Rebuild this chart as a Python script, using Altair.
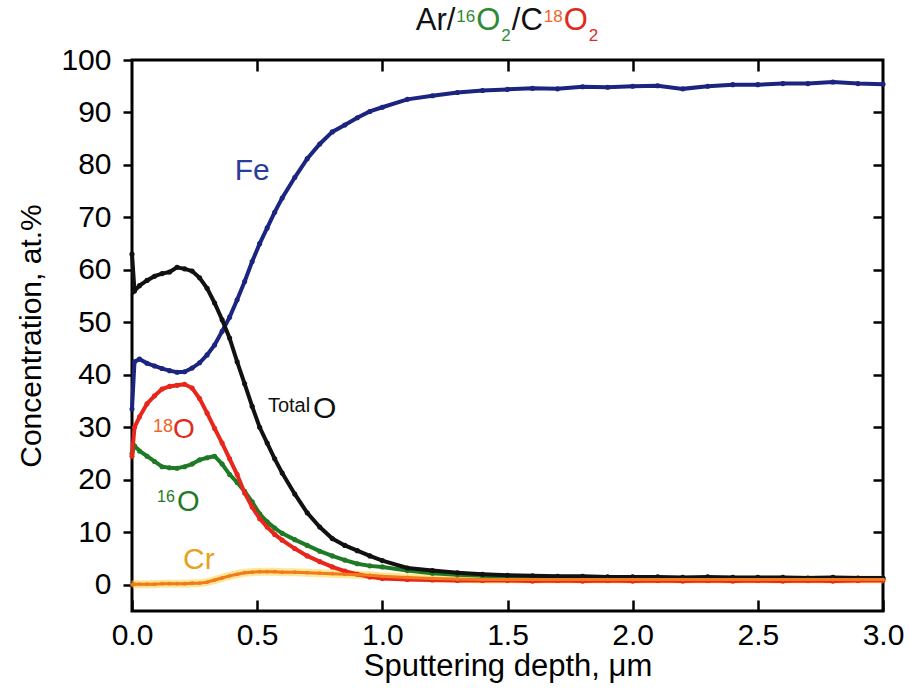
import altair as alt
import pandas as pd

# ---------------- data ----------------
depth = [0.00, 0.01, 0.03, 0.06, 0.09, 0.12, 0.15, 0.18, 0.21, 0.24, 0.27, 0.30,
         0.33, 0.36, 0.39, 0.42, 0.45, 0.48, 0.51, 0.54, 0.57, 0.60, 0.65, 0.70,
         0.75, 0.80, 0.85, 0.90, 0.95, 1.00, 1.10, 1.20, 1.30, 1.40, 1.50, 1.60,
         1.70, 1.80, 1.90, 2.00, 2.10, 2.20, 2.30, 2.40, 2.50, 2.60, 2.70, 2.80,
         2.90, 3.00]

fe = [33.5, 42.5, 43.0, 42.2, 41.7, 41.2, 40.8, 40.5, 40.6, 41.3, 42.3, 43.8,
      45.7, 48.3, 51.0, 54.3, 57.8, 61.6, 65.0, 68.0, 71.0, 73.7, 77.6, 81.2,
      84.0, 86.3, 87.6, 89.0, 90.2, 91.0, 92.5, 93.2, 93.8, 94.2, 94.4, 94.6,
      94.5, 94.9, 94.8, 95.0, 95.1, 94.5, 95.0, 95.3, 95.3, 95.5, 95.5, 95.8,
      95.5, 95.4]

total_o = [63.0, 56.0, 57.0, 58.0, 58.8, 59.3, 59.6, 60.5, 60.2, 59.8, 58.5, 56.5,
           53.7, 50.5, 47.0, 42.5, 38.3, 34.0, 30.0, 27.0, 24.0, 21.3, 17.3, 13.7,
           11.0, 8.8, 7.5, 6.5, 5.5, 4.6, 3.2, 2.7, 2.3, 2.0, 1.8, 1.7,
           1.6, 1.6, 1.5, 1.5, 1.5, 1.4, 1.5, 1.4, 1.4, 1.4, 1.3, 1.4,
           1.3, 1.3]

o18 = [24.5, 30.0, 32.0, 34.5, 36.0, 37.3, 37.8, 38.0, 38.2, 37.5, 35.5, 32.7,
       29.8, 27.0, 24.0, 21.0, 17.5, 14.8, 12.6, 11.0, 9.6, 8.5, 6.9, 5.5,
       4.4, 3.4, 2.6, 2.0, 1.5, 1.2, 1.0, 0.9, 0.8, 0.8, 0.8, 0.7,
       0.8, 0.7, 0.8, 0.7, 0.8, 0.7, 0.8, 0.7, 0.8, 0.7, 0.8, 0.7,
       0.8, 0.8]

o16 = [25.0, 26.5, 25.5, 24.5, 23.5, 22.5, 22.3, 22.2, 22.5, 23.0, 23.8, 24.2,
       24.5, 23.0, 21.0, 19.5, 17.8, 15.8, 13.5, 12.0, 10.8, 9.8, 8.6, 7.5,
       6.4, 5.5, 4.7, 4.0, 3.6, 3.4, 2.7, 2.2, 1.9, 1.7, 1.5, 1.4,
       1.4, 1.3, 1.3, 1.3, 1.2, 1.2, 1.2, 1.2, 1.2, 1.2, 1.2, 1.2,
       1.2, 1.2]

cr = [0.0, 0.1, 0.1, 0.1, 0.1, 0.2, 0.2, 0.2, 0.2, 0.3, 0.3, 0.5,
      0.9, 1.3, 1.7, 2.0, 2.3, 2.4, 2.5, 2.5, 2.5, 2.4, 2.4, 2.3,
      2.2, 2.1, 2.0, 1.9, 1.8, 1.6, 1.4, 1.2, 1.1, 1.0, 1.0, 1.0,
      1.0, 1.0, 1.0, 1.0, 1.0, 1.0, 1.0, 1.0, 1.0, 1.0, 1.0, 1.0,
      1.0, 1.0]

x_ticks = [0.0, 0.5, 1.0, 1.5, 2.0, 2.5, 3.0]
y_ticks = [0, 10, 20, 30, 40, 50, 60, 70, 80, 90, 100]

# in-plot labels (data coordinates)
lab_text = ["Fe", "Total", "O", "18", "O", "16", "O", "Cr"]
lab_x = [0.41, 0.543, 0.723, 0.084, 0.164, 0.10, 0.18, 0.204]
lab_y = [77.1, 33.0, 31.7, 29.2, 27.9, 15.8, 14.1, 3.05]
lab_size = [30, 20, 30, 18, 28, 16, 29, 30]
lab_color = ["#2b3d9a", "#111111", "#111111", "#f0642a", "#e02a1e", "#1f7a26", "#1f7a26", "#e8a21c"]

# title pieces: text, font size, colour, vertical position (data units)
title_text = ["Ar/", "16", "O", "2", "/C", "18", "O", "2"]
title_size = [31, 17, 31, 17, 31, 17, 31, 17]
title_color = ["#111111", "#2e8b34", "#2e8b34", "#2e8b34", "#111111", "#f0642a", "#e02a1e", "#e02a1e"]
title_y = [105.7, 107.3, 105.7, 103.6, 105.7, 107.3, 105.7, 103.6]

# ---------------- layout helpers ----------------
FONT = "Liberation Sans"
W, H = 751, 551
X0, X1 = 0.0, 3.0
Y0, Y1 = -5.0, 100.0
CHAR_W = {"A": 0.667, "r": 0.333, "/": 0.278, "O": 0.778, "C": 0.722,
          "1": 0.556, "2": 0.556, "6": 0.556, "8": 0.556}

def text_w(s, size):
    return sum(CHAR_W.get(c, 0.556) for c in s) * size

widths = [text_w(t, s) + 1.0 for t, s in zip(title_text, title_size)]
total_w = sum(widths)
start_px = (W / 2) - total_w / 2
title_x = []
acc = start_px
for w in widths:
    title_x.append(X0 + (acc / W) * (X1 - X0))
    acc += w

ann = pd.DataFrame({
    "depth": lab_x + title_x,
    "conc": lab_y + title_y,
    "label": lab_text + title_text,
    "size": lab_size + title_size,
    "color": lab_color + title_color,
})

# ---------------- scales & axes ----------------
x_scale = alt.Scale(domain=[X0, X1], nice=False, zero=False)
y_scale = alt.Scale(domain=[Y0, Y1], nice=False, zero=False)
TX, TY = 11, 10  # inward tick lengths (px)

# bottom axis: labels + inward ticks (axis moved up by the tick length)
x_axis_bottom = alt.Axis(orient="bottom", values=x_ticks, format=".1f",
                         ticks=True, tickSize=TX, tickWidth=2.5, tickColor="black",
                         offset=-TX, domain=False, grid=False,
                         labelFontSize=30, labelFont=FONT, labelColor="black", labelPadding=9,
                         labelFlush=False, labelOverlap=False,
                         title="Sputtering depth, μm", titleFont=FONT, titleFontSize=31,
                         titleFontWeight="normal", titleColor="black",
                         titleBaseline="alphabetic", titleY=64 + TX, titleX=375.5)
# top axis: inward ticks only
x_axis_top = alt.Axis(orient="top", values=x_ticks[1:-1], labels=False,
                      ticks=True, tickSize=TX, tickWidth=2.5, tickColor="black",
                      offset=-TX, domain=False, grid=False, title=None)
# left axis: labels + outward ticks
y_axis_left = alt.Axis(orient="left", values=y_ticks, tickSize=9, tickWidth=2.5, tickColor="black",
                       domain=False, grid=False,
                       labelFontSize=30, labelFont=FONT, labelColor="black", labelPadding=12,
                       labelFlush=False, labelOverlap=False,
                       title="Concentration, at.%", titleFont=FONT, titleFontSize=30,
                       titleFontWeight="normal", titleColor="black",
                       titleBaseline="alphabetic", titleX=-92, titleY=275.5)
# right axis: inward ticks only
y_axis_right = alt.Axis(orient="right", values=y_ticks[1:-1], labels=False,
                        ticks=True, tickSize=TY, tickWidth=2.5, tickColor="black",
                        offset=-TY, domain=False, grid=False, title=None)

X_main = alt.X("depth:Q", scale=x_scale, axis=x_axis_bottom)
Y_main = alt.Y("conc:Q", scale=y_scale, axis=y_axis_left)
X_top = alt.X("depth:Q", scale=x_scale, axis=x_axis_top)
Y_right = alt.Y("conc:Q", scale=y_scale, axis=y_axis_right)
X_plain = alt.X("depth:Q", scale=x_scale, axis=None)
Y_plain = alt.Y("conc:Q", scale=y_scale, axis=None)

def series_df(vals):
    return pd.DataFrame({"depth": depth, "conc": vals})

def line_layer(vals, color, width=4.0, pt=26):
    return alt.Chart(series_df(vals)).mark_line(
        color=color, strokeWidth=width,
        point=alt.OverlayMarkDef(filled=True, size=pt, color=color, opacity=1)
    ).encode(x=X_plain, y=Y_plain)

# the Cr glow layer carries the bottom/left axes, the text layer the top/right ones
cr_glow = alt.Chart(series_df(cr)).mark_line(color="#ffd23c", strokeWidth=8, opacity=0.55).encode(
    x=X_main, y=Y_main)

text_layer = alt.Chart(ann).mark_text(align="left", baseline="alphabetic", font=FONT).encode(
    x=X_top, y=Y_right, text="label:N",
    size=alt.Size("size:Q", scale=None),
    color=alt.Color("color:N", scale=None))

layers = [
    cr_glow,
    line_layer(fe, "#1b2580"),
    line_layer(o16, "#1f7a26"),
    line_layer(total_o, "#111111"),
    line_layer(o18, "#e8261c"),
    line_layer(cr, "#f07a1e", width=3, pt=14),
    text_layer,
]

chart = alt.layer(*layers).resolve_axis(x="independent", y="independent").properties(
    width=W, height=H,
    autosize=alt.AutoSizeParams(type="none"),
    padding={"left": 132, "top": 60, "right": 26, "bottom": 88},
    background="white",
).configure_view(stroke="black", strokeWidth=3)

chart.save("out.html", embed_options={"renderer": "svg", "actions": False})
